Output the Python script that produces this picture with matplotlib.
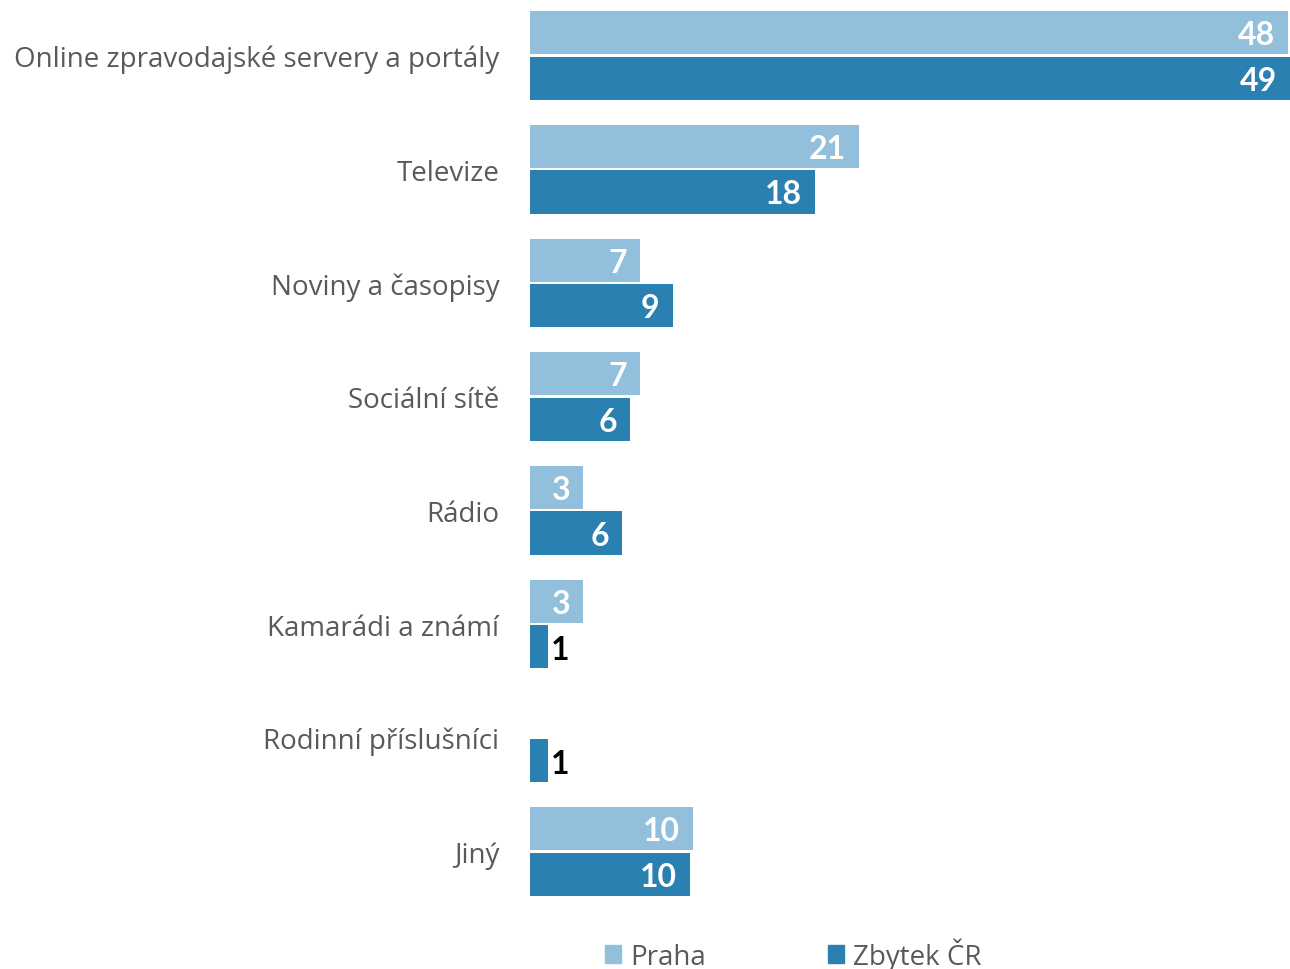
import matplotlib as mpl
mpl.use('Agg')
import matplotlib.pyplot as plt
from matplotlib.patches import Patch

# Data (share in %)
categories = ['Online zpravodajské servery a portály', 'Televize', 'Noviny a časopisy',
              'Sociální sítě', 'Rádio', 'Kamarádi a známí', 'Rodinní příslušníci', 'Jiný']
praha  = [48.4, 21.0, 7.0, 7.0, 3.4, 3.4, 0.0, 10.4]
zbytek = [49.0, 18.2, 9.1, 6.4, 5.9, 1.15, 1.15, 10.2]
series_names = ['Praha', 'Zbytek ČR']

c_light = '#92bfdb'
c_dark  = '#2a80b1'
c_text  = '#595959'

W, H = 1290, 970
fig = plt.figure(figsize=(W / 100, H / 100), dpi=100)

#	Axes placed in pixels: bars from x=530 to the right edge
pitch = 113.7
top_c = 56.5
ax_top = top_c - 0.5 * pitch
ax_bot = top_c + 7.5 * pitch
ax = fig.add_axes([530 / W, 1 - ax_bot / H, (W - 530) / W, (ax_bot - ax_top) / H])

y = list(range(len(categories)))
bh = 0.38
off = 0.2
xmax = 48.5

ax.barh([i - off for i in y], praha, height=bh, color=c_light)
ax.barh([i + off for i in y], zbytek, height=bh, color=c_dark)

ax.set_xlim(0, xmax)
ax.set_ylim(len(categories) - 0.5, -0.5)
ax.set_yticks(y)
ax.set_yticklabels(categories, fontsize=20, color=c_text, family='Open Sans')
ax.tick_params(axis='y', length=0, pad=22)
ax.set_xticks([])
for s in ax.spines.values():
	s.set_visible(False)

#	Value labels
def label(vals, dy):
	for i, v in enumerate(vals):
		if v <= 0:
			continue
		txt = str(int(round(v)))
		if v < 2:
			ax.annotate(txt, (v, i + dy), xytext=(3, -3), textcoords='offset pixels',
						ha='left', va='center', fontsize=23, fontweight='bold',
						color='black', family='Lato')
		else:
			ax.annotate(txt, (min(v, xmax), i + dy), xytext=(-13, -2), textcoords='offset pixels',
						ha='right', va='center', fontsize=23, fontweight='bold',
						color='white', family='Lato')

label(praha, -off)
label(zbytek, off)

#	Legend at the bottom
handles = [Patch(color=c_light), Patch(color=c_dark)]
leg = fig.legend(handles, series_names, loc='center', bbox_to_anchor=(793 / W, 1 - 955 / H),
				 ncol=2, frameon=False, fontsize=20, handlelength=0.6, handleheight=0.6,
				 handletextpad=0.3, columnspacing=4.4, borderpad=0)
for t in leg.get_texts():
	t.set_color(c_text)
	t.set_family('Open Sans')

plt.savefig('out.png', dpi=100)
